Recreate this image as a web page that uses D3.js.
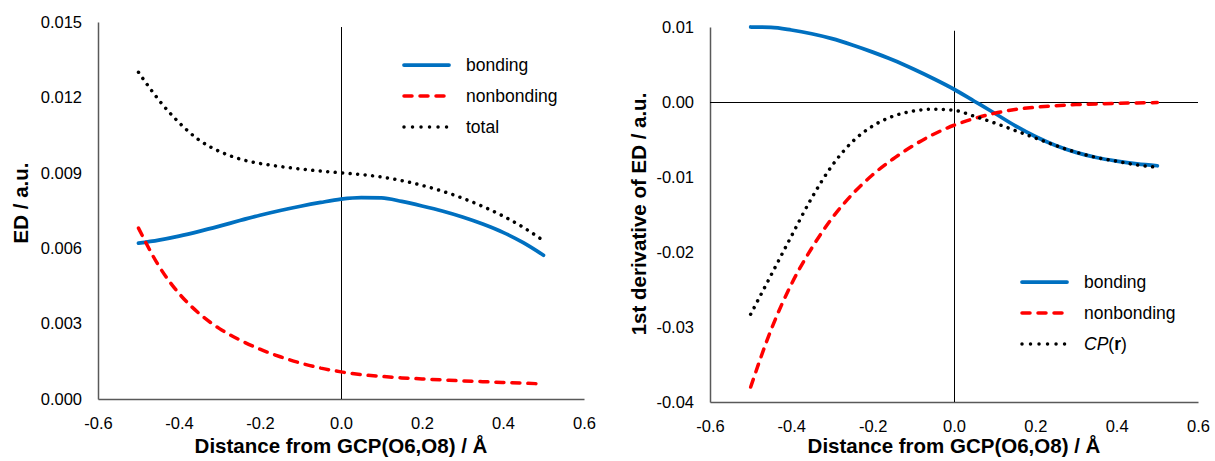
<!DOCTYPE html>
<html lang="en">
<head>
<meta charset="utf-8">
<script src="https://d3js.org/d3.v7.min.js"></script>
<style>
  body {margin:0; background:#fff;}
  svg {font-family: Arial, "Liberation Sans", sans-serif;}
  .axis path.domain {stroke:#595959; stroke-width:1.5;}
  .axis text {font-size:16.5px; fill:#000;}
  .title {font-size:20.5px; font-weight:bold; fill:#000;}
  .legend text {font-size:17.5px; fill:#000;}
</style>
</head>
<body>
<script>
// distance from GCP(O6,O8) / Å
const distance = [-0.5,-0.45,-0.4,-0.35,-0.3,-0.25,-0.2,-0.15,-0.1,-0.05,0,0.05,0.1,0.15,0.2,0.25,0.3,0.35,0.4,0.45,0.5];

// left panel: ED / a.u.
const edBonding    = [0.0062,0.00632,0.00648,0.00667,0.00688,0.0071,0.00731,0.0075,0.00767,0.00782,0.00795,0.00801,0.008,0.00786,0.00768,0.00748,0.00724,0.00696,0.00663,0.00622,0.00572];
const edNonbonding = [0.0068,0.0053,0.0042,0.0034,0.0028,0.00235,0.00198,0.00168,0.00143,0.00123,0.00108,0.00097,0.0009,0.00084,0.0008,0.00076,0.00072,0.00069,0.00066,0.00063,0.0006];
const edTotal      = [0.0130,0.0119,0.0110,0.0103,0.00985,0.00955,0.00937,0.00925,0.00915,0.00907,0.009,0.00893,0.00883,0.00869,0.0085,0.00827,0.00799,0.00766,0.00728,0.00683,0.0063];

// right panel: 1st derivative of ED / a.u.
const dBonding    = [0.0100,0.00995,0.0096,0.0091,0.00845,0.0076,0.00665,0.0056,0.0044,0.0031,0.0017,0.0001,-0.0015,-0.00315,-0.0046,-0.0058,-0.00672,-0.0074,-0.00788,-0.00825,-0.0085];
const dNonbonding = [-0.0380,-0.0304,-0.0243,-0.0195,-0.0155,-0.0123,-0.0097,-0.0076,-0.0058,-0.0043,-0.0031,-0.0022,-0.0015,-0.0010,-0.0007,-0.0005,-0.00035,-0.00025,-0.00018,-0.00012,-0.00008];
const dCP         = [-0.0283,-0.0231,-0.0179,-0.0128,-0.0085,-0.0053,-0.0032,-0.0019,-0.0012,-0.00095,-0.0011,-0.0019,-0.0028,-0.0038,-0.0048,-0.0058,-0.0067,-0.0074,-0.0079,-0.0084,-0.0087];

const xTicks = [-0.6,-0.4,-0.2,0,0.2,0.4,0.6];
const edTicks = [0,0.003,0.006,0.009,0.012,0.015];
const dTicks = [-0.04,-0.03,-0.02,-0.01,0,0.01];

const seriesStyle = {
  bonding:    {stroke:"#0070C0", width:3.75, dash:null, legendDash:null},
  nonbonding: {stroke:"#FF0000", width:3.5, dash:"8,8", legendDash:"8,8"},
  dotted:     {stroke:"#000000", width:3.5, dash:"0.01,7.5", legendDash:"0.01,8.5"}
};

const svg = d3.select("body").append("svg")
  .attr("width", 1215)
  .attr("height", 461);

function panel(opt) {
  const x = d3.scaleLinear().domain([-0.6, 0.6]).range(opt.xRange);
  const y = d3.scaleLinear().domain(opt.yDomain).range(opt.yRange);
  const g = svg.append("g");

  g.append("g")
    .attr("class", "axis")
    .attr("transform", "translate(0," + opt.yRange[0] + ")")
    .call(d3.axisBottom(x).tickValues(xTicks).tickSize(0).tickPadding(18).tickFormat(d => d.toFixed(1)));

  g.append("g")
    .attr("class", "axis")
    .attr("transform", "translate(" + opt.xRange[0] + ",0)")
    .call(d3.axisLeft(y).tickValues(opt.yTicks).tickSize(0).tickPadding(16).tickFormat(d => d.toFixed(opt.digits)));

  // zero reference lines
  g.append("line")
    .attr("x1", x(0) + 0.5).attr("x2", x(0) + 0.5)
    .attr("y1", y(opt.yDomain[0])).attr("y2", y(opt.vTop))
    .attr("stroke", "#000").attr("stroke-width", 1);
  if (opt.hZero) {
    g.append("line")
      .attr("x1", x(-0.6)).attr("x2", x(0.6))
      .attr("y1", Math.round(y(0)) + 0.5).attr("y2", Math.round(y(0)) + 0.5)
      .attr("stroke", "#000").attr("stroke-width", 1);
  }

  const line = d3.line()
    .x((d, i) => x(distance[i]))
    .y(d => y(d))
    .curve(d3.curveMonotoneX);

  opt.series.forEach(s => {
    const st = seriesStyle[s.style];
    g.append("path")
      .attr("d", line(s.values))
      .attr("fill", "none")
      .attr("stroke", st.stroke)
      .attr("stroke-width", st.width)
      .attr("stroke-dasharray", st.dash)
      .attr("stroke-linecap", "round");
  });

  // legend
  const lg = g.append("g").attr("class", "legend");
  opt.series.forEach((s, i) => {
    const st = seriesStyle[s.style];
    const ly = opt.legendY + i * 31;
    lg.append("line")
      .attr("x1", opt.legendX).attr("x2", opt.legendX + 45)
      .attr("y1", ly).attr("y2", ly)
      .attr("stroke", st.stroke)
      .attr("stroke-width", st.width)
      .attr("stroke-dasharray", st.legendDash)
      .attr("stroke-linecap", "round");
    const t = lg.append("text")
      .attr("x", opt.legendX + 62)
      .attr("y", ly + 6);
    s.label.forEach(part => {
      t.append("tspan")
        .text(part.text)
        .style("font-style", part.italic ? "italic" : null)
        .style("font-weight", part.bold ? "bold" : null);
    });
  });

  g.append("text")
    .attr("class", "title")
    .attr("x", (opt.xRange[0] + opt.xRange[1]) / 2)
    .attr("y", 453)
    .attr("text-anchor", "middle")
    .text("Distance from GCP(O6,O8) / Å");

  g.append("text")
    .attr("class", "title")
    .attr("transform", "translate(" + opt.yTitleX + "," + opt.yTitleY + ") rotate(-90)")
    .attr("text-anchor", "middle")
    .text(opt.yTitle);
}

panel({
  xRange: [98, 584],
  yDomain: [0, 0.015],
  yRange: [399, 22],
  yTicks: edTicks,
  digits: 3,
  vTop: 0.0148,
  hZero: false,
  yTitle: "ED / a.u.",
  yTitleX: 28,
  yTitleY: 203,
  legendX: 404,
  legendY: 65,
  series: [
    {values: edBonding, style: "bonding", label: [{text: "bonding"}]},
    {values: edNonbonding, style: "nonbonding", label: [{text: "nonbonding"}]},
    {values: edTotal, style: "dotted", label: [{text: "total"}]}
  ]
});

panel({
  xRange: [710, 1198],
  yDomain: [-0.04, 0.01],
  yRange: [402, 27],
  yTicks: dTicks,
  digits: 2,
  vTop: 0.0095,
  hZero: true,
  yTitle: "1st derivative of ED / a.u.",
  yTitleX: 646,
  yTitleY: 214,
  legendX: 1022,
  legendY: 282,
  series: [
    {values: dBonding, style: "bonding", label: [{text: "bonding"}]},
    {values: dNonbonding, style: "nonbonding", label: [{text: "nonbonding"}]},
    {values: dCP, style: "dotted", label: [{text: "CP", italic: true}, {text: "("}, {text: "r", bold: true}, {text: ")"}]}
  ]
});
</script>
</body>
</html>
